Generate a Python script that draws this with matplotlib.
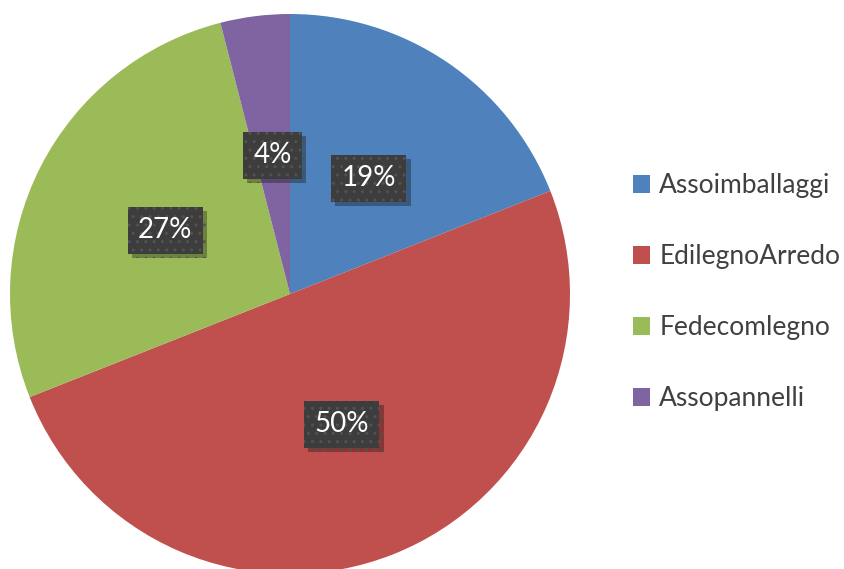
import matplotlib.pyplot as plt
import matplotlib.patheffects as pe

names = ["Assoimballaggi", "EdilegnoArredo", "Fedecomlegno", "Assopannelli"]
shares = [19, 50, 27, 4]
colors = ["#4F81BD", "#C0504D", "#9BBB59", "#8064A2"]

W, H = 844, 569
fig = plt.figure(figsize=(W / 100, H / 100), dpi=100)
fig.patch.set_facecolor("white")

# pie centre (290, 294) px, radius 280 px
cx, cy, r = 290, 294, 280
ax = fig.add_axes([(cx - r) / W, (H - cy - r) / H, 2 * r / W, 2 * r / H])

wedges, texts, autotexts = ax.pie(
    shares, colors=colors, startangle=90, counterclock=False, radius=1,
    autopct=lambda p: f"{p:.0f}%", pctdistance=0.5,
    wedgeprops=dict(linewidth=0),
    textprops=dict(color="white", fontsize=20, family=["Lato", "DejaVu Sans"]),
)
ax.set_xlim(-1, 1)
ax.set_ylim(-1, 1)
ax.axis("off")
for w in wedges:
    w.set_clip_on(False)

plt.rcParams["hatch.linewidth"] = 1.0
for t in autotexts:
    t.set_bbox(dict(boxstyle="square,pad=0.38", facecolor="#3d3d3d",
                    edgecolor="#525252", linewidth=0, hatch=".."))
    t.get_bbox_patch().set_path_effects([
        pe.withSimplePatchShadow(offset=(3, -3), shadow_rgbFace="#000000", alpha=0.3)
    ])

leg = fig.legend(wedges, names, loc="center left",
                 bbox_to_anchor=(609 / W, (H - 292) / H), frameon=False,
                 labelspacing=1.74, handlelength=0.66,
                 handleheight=0.66, handletextpad=0.35,
                 prop=dict(family=["Lato", "DejaVu Sans"], size=19))
for t in leg.get_texts():
    t.set_color("#404040")

fig.savefig("out.png", dpi=100)
